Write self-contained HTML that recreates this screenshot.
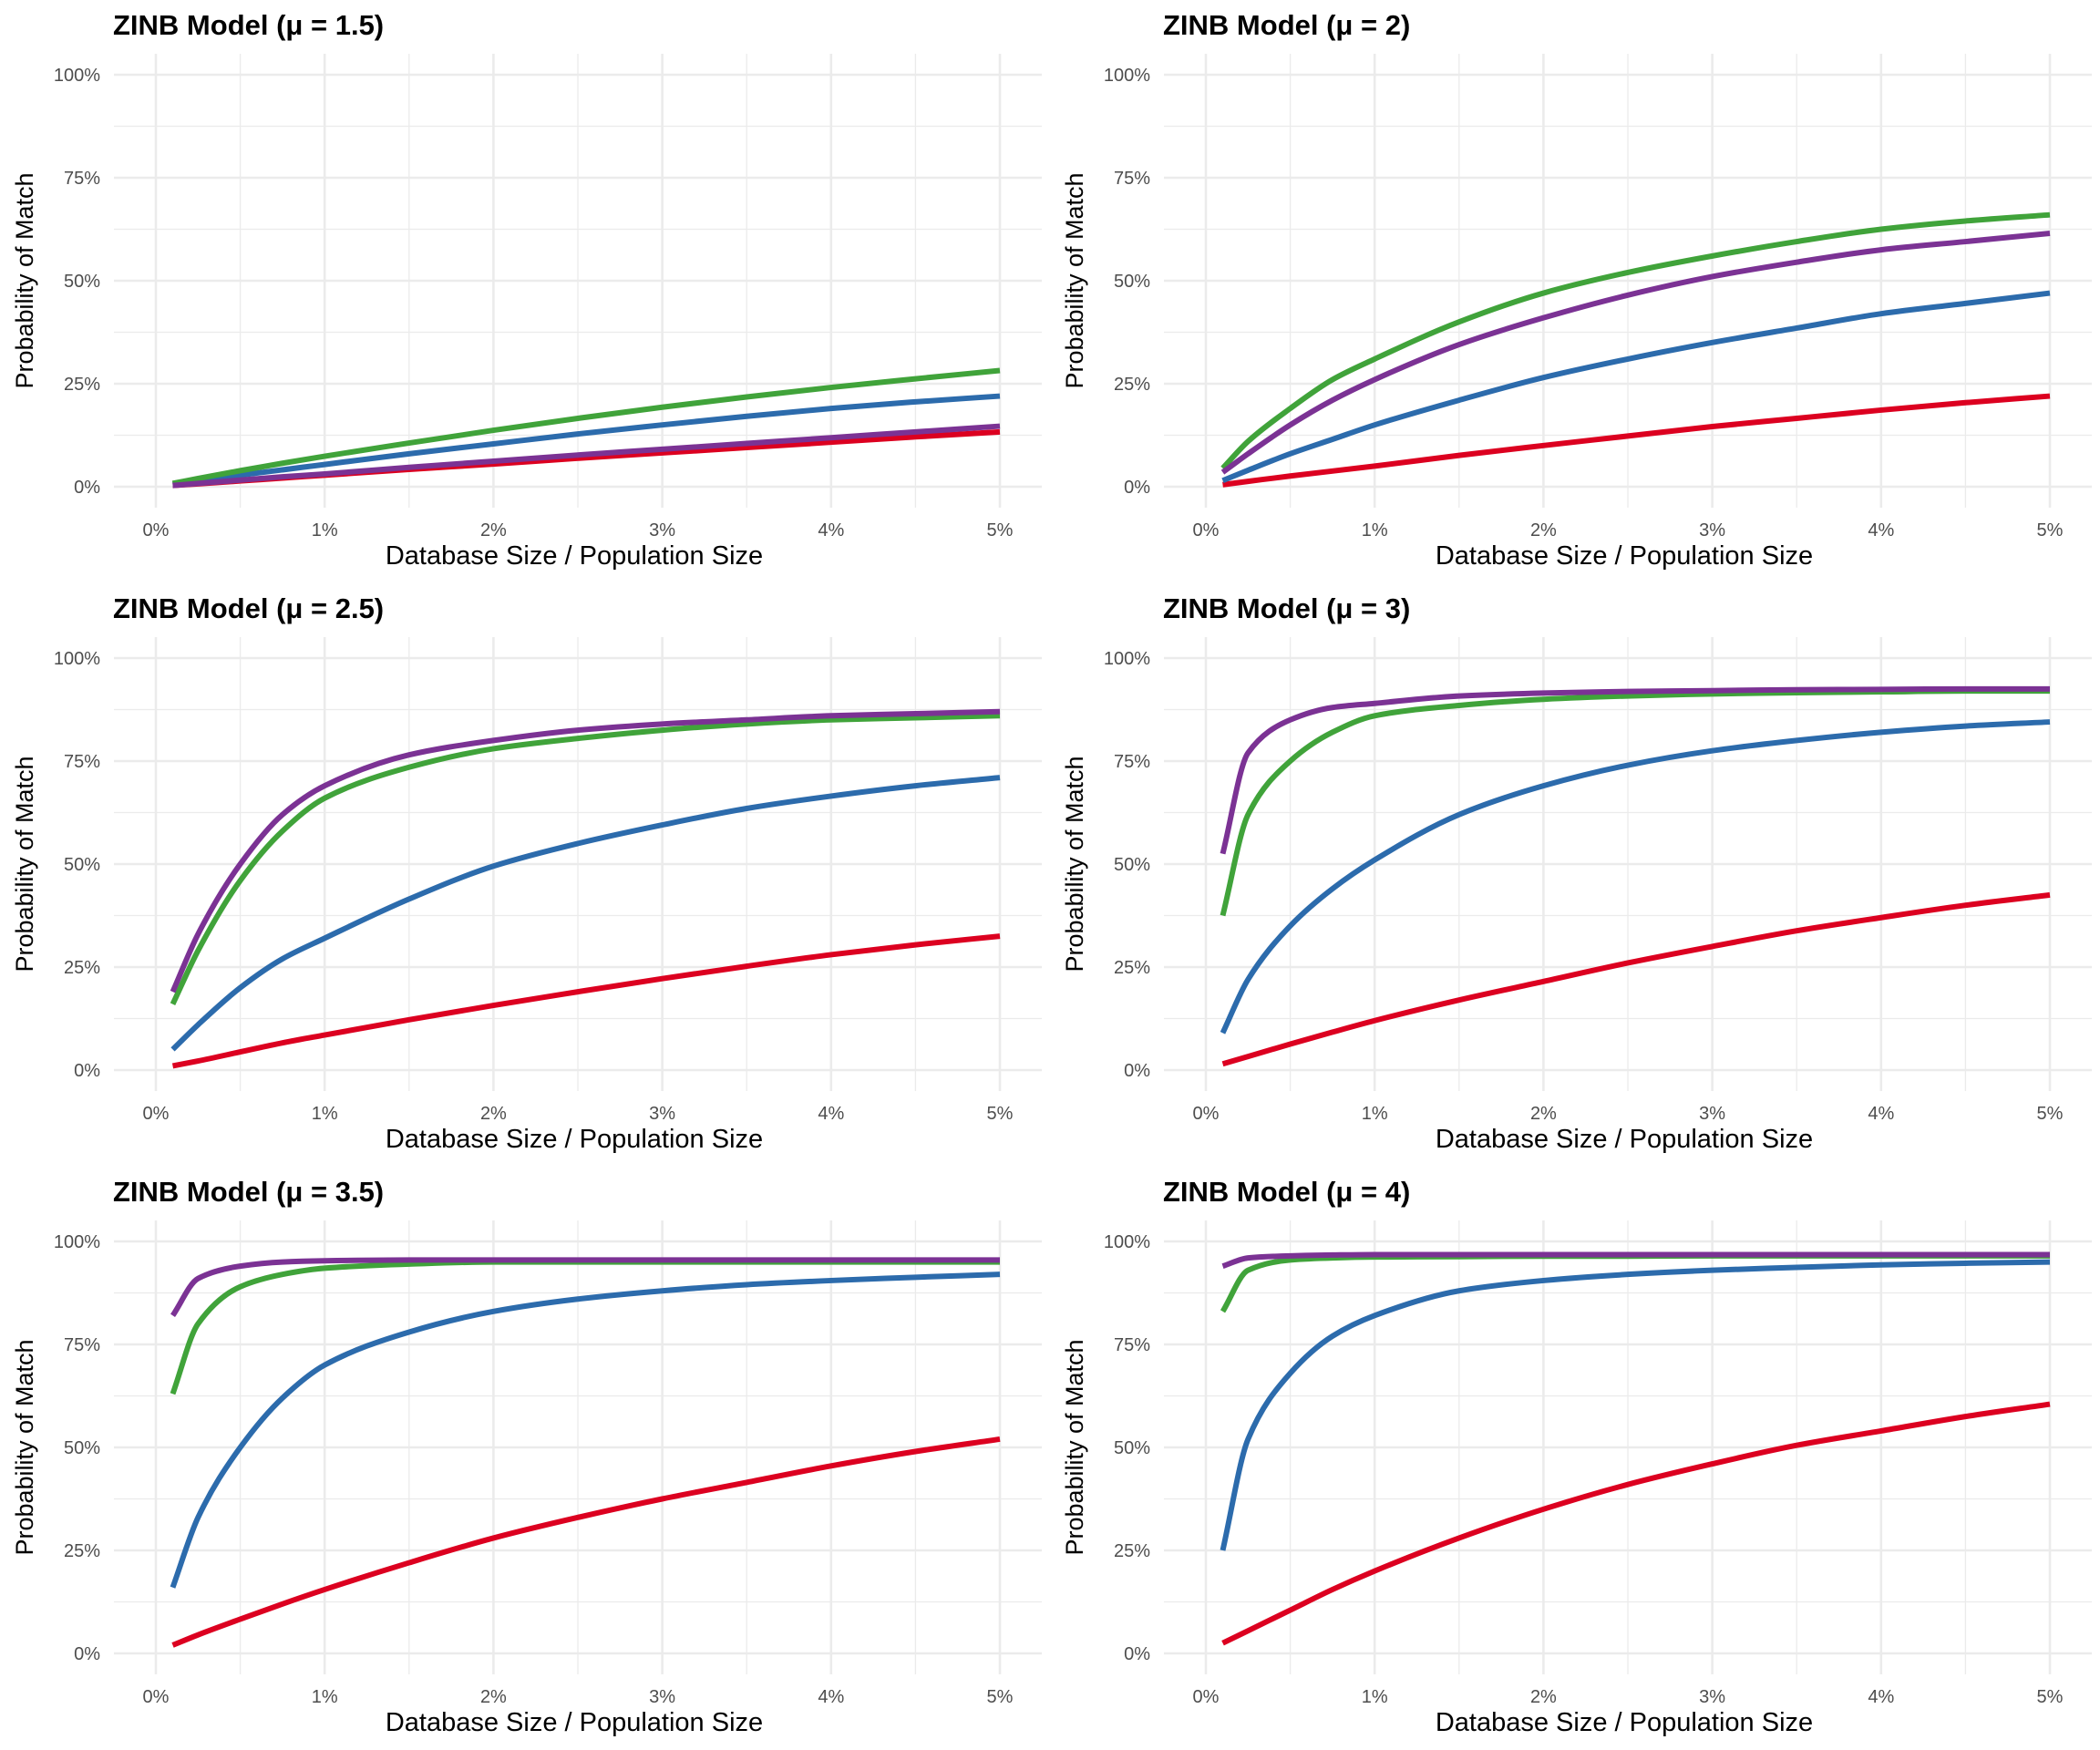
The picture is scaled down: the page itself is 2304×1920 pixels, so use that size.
<!DOCTYPE html>
<html><head><meta charset="utf-8"><style>
html,body{margin:0;padding:0;background:#fff;}
svg{display:block;font-family:"Liberation Sans",Arial,sans-serif;}
</style></head><body>
<svg id="chart" width="2304" height="1920" viewBox="0 0 2304 1920" xmlns="http://www.w3.org/2000/svg">
<rect width="2304" height="1920" fill="#fff"/>
</svg>
<script>
const xValues = [0.1, 0.25, 0.5, 0.75, 1, 1.5, 2, 2.5, 3, 3.5, 4, 4.5, 5];
const panelTitles = ["ZINB Model (μ = 1.5)", "ZINB Model (μ = 2)", "ZINB Model (μ = 2.5)", "ZINB Model (μ = 3)", "ZINB Model (μ = 3.5)", "ZINB Model (μ = 4)"];
const xTicks = [0, 1, 2, 3, 4, 5];
const xTickLabels = ["0%", "1%", "2%", "3%", "4%", "5%"];
const yTicks = [0, 25, 50, 75, 100];
const yTickLabels = ["0%", "25%", "50%", "75%", "100%"];
const seriesNames = ["red", "blue", "green", "purple"];
const seriesColors = ["#DC0020", "#2C6BAC", "#40A33A", "#7B3294"];

const redP1 = [0.3,0.7,1.4,2.1,2.8,4.2,5.5,6.9,8.2,9.5,10.8,12.1,13.3];
const blueP1 = [0.6,1.4,2.8,4.1,5.4,8,10.4,12.8,15,17.1,19,20.6,22];
const greenP1 = [0.8,2,3.9,5.7,7.4,10.6,13.7,16.6,19.3,21.8,24.1,26.2,28.2];
const purpleP1 = [0.3,0.8,1.6,2.4,3.1,4.7,6.2,7.7,9.1,10.5,11.9,13.3,14.7];

const redP2 = [0.5,1.3,2.6,3.8,5,7.6,10,12.3,14.6,16.6,18.6,20.4,22];
const blueP2 = [1.5,4,8,11.5,15,21,26.5,31,35,38.5,42,44.5,47];
const greenP2 = [4.5,11,19,26,31,40,47,52,56,59.5,62.5,64.5,66];
const purpleP2 = [3.5,8,15,21,26,34.5,41,46.5,51,54.5,57.5,59.5,61.5];

const redP3 = [1,2.2,4.4,6.6,8.5,12.2,15.7,19,22.2,25.2,28,30.4,32.5];
const blueP3 = [5,11,20,27,32,41.5,49.5,55,59.5,63.5,66.5,69,71];
const greenP3 = [16,29,46,58,66,73.5,78,80.5,82.5,84,85,85.5,86];
const purpleP3 = [19,33,50,62,69,76.5,80,82.5,84,85,86,86.5,87];

const redP4 = [1.5,3.3,6.3,9.2,12,17,21.5,26,30,33.8,37,40,42.5];
const blueP4 = [9,22,35,44,51,62,69,74,77.5,80,82,83.5,84.5];
const greenP4 = [37.5,62,75,82,86,88.5,90,90.8,91.3,91.6,91.8,92,92];
const purpleP4 = [52.5,77,85,88,89,90.8,91.5,91.9,92.1,92.3,92.4,92.5,92.5];

const redP5 = [2,4.5,8.3,12,15.5,22,28,33,37.5,41.5,45.5,49,52];
const blueP5 = [16,33,50,62,70,78,83,86,88,89.5,90.5,91.3,92];
const greenP5 = [63,80,89,92,93.5,94.5,95,95,95,95,95,95,95];
const purpleP5 = [82,91,94,95,95.3,95.5,95.5,95.5,95.5,95.5,95.5,95.5,95.5];

const redP6 = [2.5,5.5,10.5,15.5,20,28,35,41,46,50.5,54,57.5,60.5];
const blueP6 = [25,52,68,77,82,88,90.5,92,93,93.7,94.3,94.7,95];
const greenP6 = [83,93,95.5,96,96.2,96.3,96.4,96.4,96.5,96.5,96.5,96.5,96.5];
const purpleP6 = [94,96,96.5,96.7,96.8,96.8,96.8,96.8,96.8,96.8,96.8,96.8,96.8];

const panelSeries = [
  [redP1, blueP1, greenP1, purpleP1],
  [redP2, blueP2, greenP2, purpleP2],
  [redP3, blueP3, greenP3, purpleP3],
  [redP4, blueP4, greenP4, purpleP4],
  [redP5, blueP5, greenP5, purpleP5],
  [redP6, blueP6, greenP6, purpleP6]
];

const NS = "http://www.w3.org/2000/svg";
const svg = document.getElementById("chart");
function mk(tag, attrs, parent) {
  const e = document.createElementNS(NS, tag);
  for (const k in attrs) e.setAttribute(k, attrs[k]);
  parent.appendChild(e);
  return e;
}
function xScale(v) { return 171 + v / 5 * 926; }
function yScale(v) { return 534 - v / 100 * 452; }
// monotone cubic (Fritsch-Carlson) path
function monoPath(pts) {
  const n = pts.length, dx = [], dy = [], m = [], t = [];
  for (let i = 0; i < n - 1; i++) { dx[i] = pts[i+1][0] - pts[i][0]; dy[i] = pts[i+1][1] - pts[i][1]; m[i] = dy[i] / dx[i]; }
  t[0] = m[0]; t[n-1] = m[n-2];
  for (let i = 1; i < n - 1; i++) {
    if (m[i-1] * m[i] <= 0) t[i] = 0;
    else { const w1 = 2*dx[i] + dx[i-1], w2 = dx[i] + 2*dx[i-1]; t[i] = (w1 + w2) / (w1 / m[i-1] + w2 / m[i]); }
  }
  let d = "M" + pts[0][0].toFixed(2) + "," + pts[0][1].toFixed(2);
  for (let i = 0; i < n - 1; i++) {
    const h = dx[i] / 3;
    d += " C" + (pts[i][0] + h).toFixed(2) + "," + (pts[i][1] + h * t[i]).toFixed(2) + " " +
         (pts[i+1][0] - h).toFixed(2) + "," + (pts[i+1][1] - h * t[i+1]).toFixed(2) + " " +
         pts[i+1][0].toFixed(2) + "," + pts[i+1][1].toFixed(2);
  }
  return d;
}

for (let p = 0; p < 6; p++) {
  const ox = (p % 2) * 1152, oy = Math.floor(p / 2) * 640;
  const g = mk("g", {transform: "translate(" + ox + "," + oy + ")"}, svg);
  
  

  for (let i = 0; i < 5; i++) {
    const l = mk("line", {x1: xScale(i + 0.5), x2: xScale(i + 0.5), y1: 59, y2: 557, stroke: "#ebebeb", "stroke-width": 1.3}, g);
    
    
  }
  for (let i = 0; i < 4; i++) {
    const l = mk("line", {x1: 125, x2: 1143, y1: yScale(12.5 + 25 * i), y2: yScale(12.5 + 25 * i), stroke: "#ebebeb", "stroke-width": 1.3}, g);
    
    
  }
  xTicks.forEach((t, i) => {
    const l = mk("line", {x1: xScale(t), x2: xScale(t), y1: 59, y2: 557, stroke: "#ebebeb", "stroke-width": 2.6}, g);
    
    
    const tx = mk("text", {x: xScale(t), y: 588, "text-anchor": "middle", "font-size": 20, fill: "#4d4d4d"}, g);
    tx.textContent = xTickLabels[i];
    
    
  });
  yTicks.forEach((t, i) => {
    const l = mk("line", {x1: 125, x2: 1143, y1: yScale(t), y2: yScale(t), stroke: "#ebebeb", "stroke-width": 2.6}, g);
    
    
    const tx = mk("text", {x: 110, y: yScale(t) + 7, "text-anchor": "end", "font-size": 20, fill: "#4d4d4d"}, g);
    tx.textContent = yTickLabels[i];
    
    
  });
  panelSeries[p].forEach((vals, s) => {
    const pts = vals.map((v, i) => [xScale(xValues[i]), yScale(v)]);
    const path = mk("path", {d: monoPath(pts), fill: "none", stroke: seriesColors[s], "stroke-width": 6, "stroke-linejoin": "round"}, g);
    
    
  });
  const tt = mk("text", {x: 124, y: 38, "font-size": 31, "font-weight": "bold", fill: "#000"}, g);
  tt.textContent = panelTitles[p];
  
  
  const xt = mk("text", {x: 630, y: 619, "text-anchor": "middle", "font-size": 29, fill: "#000"}, g);
  xt.textContent = "Database Size / Population Size";
  
  
  const yt = mk("text", {x: 0, y: 0, "text-anchor": "middle", "font-size": 27, fill: "#000", transform: "translate(36,308) rotate(-90)"}, g);
  yt.textContent = "Probability of Match";
  
  
}
</script>
</body></html>
